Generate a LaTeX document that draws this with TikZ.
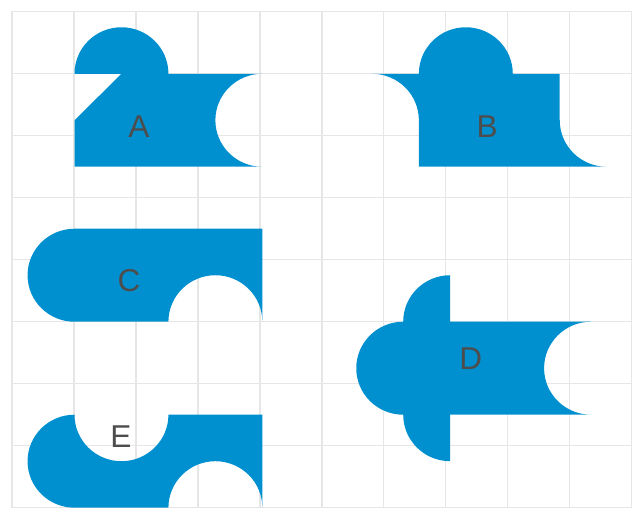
\documentclass[tikz,border=0pt]{standalone}
\usepackage{fontspec}
\setsansfont{Liberation Sans}
\usepackage{tikz}
\usetikzlibrary{positioning}
\definecolor{myBlue}{HTML}{0090CF}
\definecolor{myGray}{HTML}{4D4D4D}
\definecolor{myGrid}{HTML}{E6E6E6}

\begin{document}
\begin{tikzpicture}[x=1.01cm, y=1cm,
piece/.style={fill=myBlue, draw=none},
lbl/.style={text=myGray, font=\sffamily\fontsize{14.5}{16}\selectfont},
gridline/.style={myGrid, line width=0.6pt}
]
\useasboundingbox (-0.19,-0.13) rectangle (10.0,8.19);
% grid
\draw[gridline] (0,0) grid (9.9,8);
\draw[gridline] (0,0) rectangle (9.9,8);

% A
\fill[piece] (1,5.5) -- (1,6.25) -- (1.75,7) -- (1,7)
  arc[start angle=180, end angle=0, radius=0.75] -- (4,7)
  arc[start angle=90, end angle=270, radius=0.75] -- cycle;
\node[lbl] (labA) at (2.03,6.15) {A};

% B
\fill[piece] (5.75,7)
  arc[start angle=90, end angle=0, radius=0.75] -- (6.5,5.5) -- (9.5,5.5)
  arc[start angle=270, end angle=180, radius=0.75] -- (8.75,7) -- (8,7)
  arc[start angle=0, end angle=180, radius=0.75] -- cycle;
\node[lbl] (labB) at (7.59,6.15) {B};

% C
\fill[piece] (4,4.5) -- (4,3)
  arc[start angle=0, end angle=180, radius=0.75] -- (1,3)
  arc[start angle=270, end angle=90, radius=0.75] -- cycle;
\node[lbl] (labC) at (1.87,3.67) {C};

% D
\fill[piece] (7,3.75)
  arc[start angle=90, end angle=180, radius=0.75]
  arc[start angle=90, end angle=270, radius=0.75]
  arc[start angle=180, end angle=270, radius=0.75] -- (7,1.5) -- (9.25,1.5)
  arc[start angle=270, end angle=90, radius=0.75] -- (7,3) -- cycle;
\node[lbl] (labD) at (7.33,2.4) {D};

% E
\fill[piece] (2.5,1.5) -- (4,1.5) -- (4,0)
  arc[start angle=0, end angle=180, radius=0.75] -- (1,0)
  arc[start angle=270, end angle=90, radius=0.75]
  arc[start angle=180, end angle=360, radius=0.75] -- cycle;
\node[lbl] (labE) at (1.74,1.15) {E};
\end{tikzpicture}
\end{document}
